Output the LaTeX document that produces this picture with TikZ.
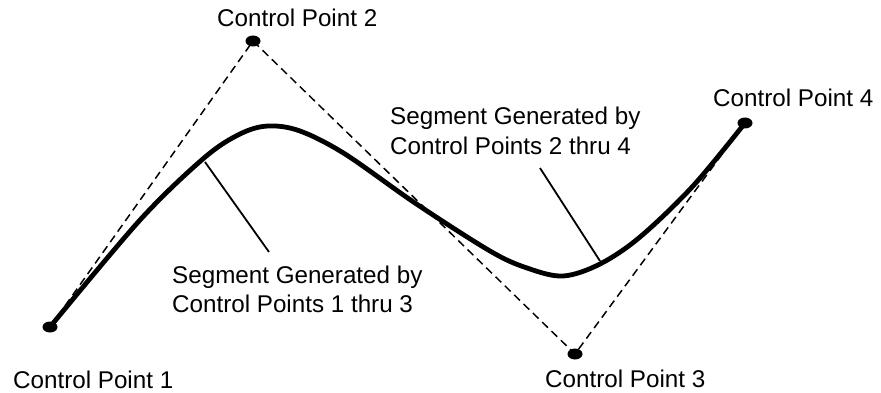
\documentclass[tikz,border=0pt]{standalone}
\usepackage{fontspec}
\setmainfont{Liberation Sans}
\begin{document}
\begin{tikzpicture}[x=1pt,y=-1pt,
  lbl/.style={anchor=base west,inner sep=0pt,font=\fontsize{24.2}{30}\selectfont},
  poly/.style={dashed,dash pattern=on 8pt off 5pt,line width=1.5pt},
  curvestyle/.style={line width=4.8pt,line join=round},
  pointer/.style={line width=1.8pt},
  dot/.style={fill=black,draw=none}]
\useasboundingbox (0,0) rectangle (881,393);
% control points
\coordinate (P1) at (50,327);
\coordinate (P2) at (253,41);
\coordinate (P3) at (575,354);
\coordinate (P4) at (745,123);
% control polygon
\draw[poly] (P1) -- (P2) -- (P3) -- (P4);
% curve
\draw[curvestyle] plot[smooth,tension=0.55] coordinates
  {(50,327) (140,220) (204,158) (240,134) (268,126) (300,131) (345,154)
   (415,203) (490,251) (527,268) (563,276) (600,264) (640,237) (693,186) (745,123)};
% dots
\foreach \p in {P1,P2,P3,P4} \fill[dot] (\p) ellipse [x radius=7.5pt, y radius=5.5pt];
% pointers
\coordinate (a1) at (205,162);
\coordinate (a2) at (269,252);
\coordinate (b1) at (540,168);
\coordinate (b2) at (600,261);
\draw[pointer] (a1) -- (a2);
\draw[pointer] (b1) -- (b2);
% labels
\node[lbl] (t1) at (13,388) {Control Point 1};
\node[lbl] (t2) at (217,27) {Control Point 2};
\node[lbl] (t3) at (545,387) {Control Point 3};
\node[lbl] (t4) at (713,107) {Control Point 4};
\node[lbl] (s1a) at (172,283) {Segment Generated by};
\node[lbl] (s1b) at (172,312) {Control Points 1 thru 3};
\node[lbl] (s2a) at (390,125) {Segment Generated by};
\node[lbl] (s2b) at (390,155) {Control Points 2 thru 4};
\end{tikzpicture}
\end{document}
